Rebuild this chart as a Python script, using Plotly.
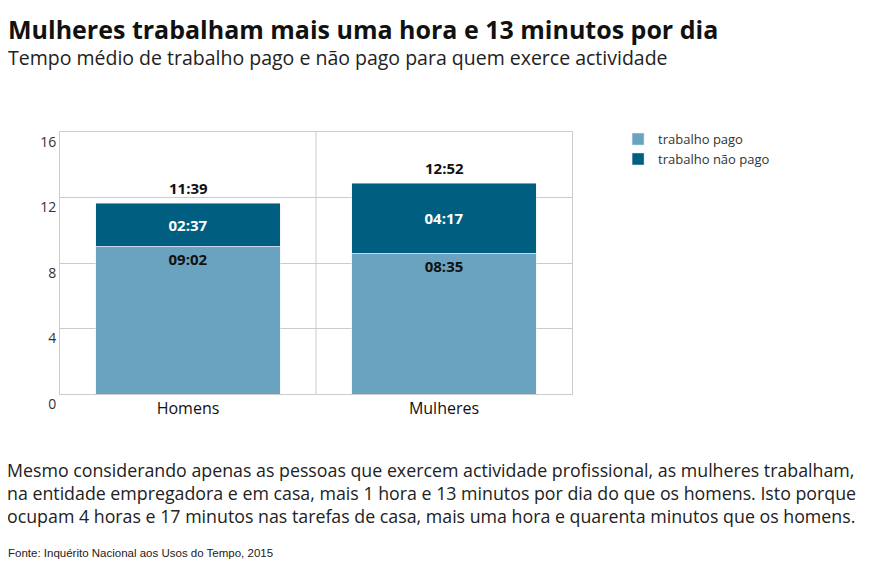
import plotly.graph_objects as go

categories = ["Homens", "Mulheres"]
pago_min = [9*60+2, 8*60+35]
naopago_min = [2*60+37, 4*60+17]
pago_lbl = ["09:02", "08:35"]
naopago_lbl = ["02:37", "04:17"]
total_lbl = ["11:39", "12:52"]

pago = [m/60 for m in pago_min]
naopago = [m/60 for m in naopago_min]
total = [a+b for a, b in zip(pago, naopago)]

F = "Open Sans"
fig = go.Figure()
fig.add_bar(x=categories, y=pago, name="trabalho pago", marker_color="#6aa3bf",
            text=pago_lbl, textposition="inside", insidetextanchor="end",
            textfont=dict(family=F, size=15, color="#111", weight="bold"), width=0.72)
fig.add_bar(x=categories, y=naopago, name="trabalho não pago", marker_color="#005f80",
            text=naopago_lbl, textposition="inside", insidetextanchor="middle",
            textfont=dict(family=F, size=15, color="white", weight="bold"), width=0.72)
for c, t, l in zip(categories, total, total_lbl):
    fig.add_annotation(x=c, y=t, text=f"<b>{l}</b>", showarrow=False, yshift=15,
                       font=dict(family=F, size=15, color="#111"))
fig.add_shape(type="line", x0=0.5, x1=0.5, y0=0, y1=16, xref="x", yref="y",
              line=dict(color="#cccccc", width=1), layer="below")

fig.update_layout(
    barmode="stack", width=888, height=561, plot_bgcolor="white", paper_bgcolor="white",
    margin=dict(l=52, r=324, t=124, b=175, autoexpand=False), bargap=0.28,
    font=dict(family=F, color="#222"),
    legend=dict(x=1.09, y=1.03, xanchor="left", yanchor="top", traceorder="normal",
                font=dict(family=F, size=13, color="#333")),
    xaxis=dict(showline=True, mirror=True, linecolor="#cccccc", automargin=False,
               tickfont=dict(size=16, color="#111")),
    yaxis=dict(range=[0, 16], tickvals=[0, 4, 8, 12, 16], showgrid=True, gridcolor="#cccccc",
               showline=True, mirror=True, linecolor="#cccccc", zeroline=False, automargin=False,
               ticklabelposition="outside bottom", ticks="", tickfont=dict(size=14, color="#333")),
)
fig.add_annotation(x=0, y=1, xref="paper", yref="paper", xanchor="left", yanchor="top",
                   xshift=-52+-2, yshift=124-2, showarrow=False, align="left",
                   text="<b>Mulheres trabalham mais uma hora e 13 minutos por dia</b>",
                   font=dict(family=F, size=25, color="#111"))
fig.add_annotation(x=0, y=1, xref="paper", yref="paper", xanchor="left", yanchor="top",
                   xshift=-52-2, yshift=124-34, showarrow=False, align="left",
                   text="Tempo médio de trabalho pago e não pago para quem exerce actividade",
                   font=dict(family=F, size=19.5, color="#222"))
desc = ("Mesmo considerando apenas as pessoas que exercem actividade profissional, as mulheres trabalham,<br>"
        "na entidade empregadora e em casa, mais 1 hora e 13 minutos por dia do que os homens. Isto porque<br>"
        "ocupam 4 horas e 17 minutos nas tarefas de casa, mais uma hora e quarenta minutos que os homens.")
fig.add_annotation(x=0, y=0, xref="paper", yref="paper", xanchor="left", yanchor="top",
                   xshift=-52-3, yshift=-62, showarrow=False, align="left", text=desc,
                   font=dict(family=F, size=17.8, color="#222"))
fig.add_annotation(x=0, y=0, xref="paper", yref="paper", xanchor="left", yanchor="top",
                   xshift=-52-2, yshift=-151, showarrow=False, align="left",
                   text="Fonte: Inquérito Nacional aos Usos do Tempo, 2015",
                   font=dict(family="Liberation Sans", size=11.5, color="#222"))
fig.write_html("out.html")
